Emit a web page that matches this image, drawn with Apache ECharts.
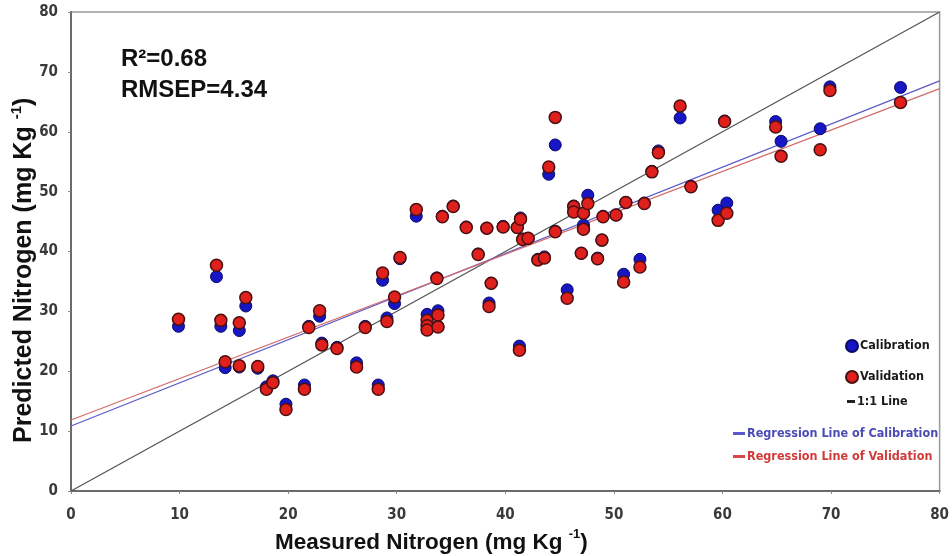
<!DOCTYPE html>
<html>
<head>
<meta charset="utf-8">
<script src="https://cdn.jsdelivr.net/npm/echarts@6/dist/echarts.min.js"></script>
<style>
html,body{margin:0;padding:0;background:#fff;}
#chart{width:952px;height:556px;}
</style>
</head>
<body>
<div id="chart"></div>
<script>
// Measured nitrogen (x) shared by each calibration / validation pair
var measured = [9.9,13.4,13.8,16.1,15.5,14.2,15.5,17.2,18.0,18.6,19.8,21.5,21.9,22.9,23.1,24.5,26.3,27.1,28.3,28.7,29.1,29.8,30.3,31.8,32.8,32.8,32.8,33.8,33.8,33.7,34.2,35.2,36.4,37.5,38.3,38.7,38.5,39.8,41.1,41.3,41.4,41.6,42.1,43.0,43.6,44.0,44.6,44.6,45.7,46.3,46.3,47.0,47.2,47.2,47.6,48.5,48.9,49.0,50.2,50.9,51.1,52.4,52.8,53.5,54.1,56.1,57.1,59.6,60.2,60.4,64.9,65.4,69.0,69.9,76.4];
// Predicted nitrogen, calibration model
var calibration = [27.5,35.8,27.5,30.9,26.8,20.6,20.7,20.5,17.4,18.4,14.5,17.7,27.5,29.2,24.7,24.0,21.4,27.5,17.7,35.2,28.9,31.3,38.8,45.9,29.5,27.9,27.1,30.1,27.5,35.6,45.9,47.6,44.1,39.6,43.9,34.7,31.4,44.2,44.0,24.2,45.6,42.1,42.2,38.7,39.1,52.9,57.8,43.4,33.6,47.6,46.7,39.7,44.4,46.4,49.4,38.9,41.9,45.9,46.1,36.2,48.2,38.7,48.1,53.4,56.8,62.3,50.9,46.9,61.8,48.1,61.7,58.4,60.5,67.5,67.4];
// Predicted nitrogen, validation model
var validation = [28.7,37.7,28.5,32.3,28.1,21.6,20.9,20.8,17.0,18.1,13.6,17.0,27.3,30.1,24.4,23.8,20.7,27.3,17.0,36.4,28.3,32.4,39.0,47.0,28.5,27.6,26.9,29.4,27.4,35.5,45.8,47.5,44.0,39.5,43.9,34.7,30.8,44.1,44.0,23.5,45.4,42.0,42.2,38.6,38.9,54.1,62.4,43.3,32.2,47.5,46.6,39.7,43.7,46.4,48.0,38.8,41.9,45.8,46.1,34.9,48.2,37.4,48.0,53.3,56.5,64.3,50.8,45.2,61.7,46.4,60.8,55.9,57.0,66.9,64.9];
// Reference lines (end points)
var lineOneToOne = [[0,0],[80,80]];
var lineRegCal = [[0,10.85],[80,68.5]];
var lineRegVal = [[0,11.85],[80,67.2]];
var axisTicks = [0,10,20,30,40,50,60,70,80];

var calData = measured.map(function(x,i){return [x, calibration[i]];});
var valData = measured.map(function(x,i){return [x, validation[i]];});

var FN = '"DejaVu Sans Condensed",sans-serif';
var FA = '"Liberation Sans",Arial,sans-serif';

var chart = echarts.init(document.getElementById('chart'));
function legendItem(name, left, top, icon, w, h, color){
  return {
    left:left, top:top, padding:0, orient:'vertical',
    itemWidth:w, itemHeight:h, itemGap:0,
    icon:icon,
    data:[{name:name}],
    textStyle:{fontFamily:FN, fontSize:12.5, fontWeight:'bold', color:color, padding:[0,0,0,-3]}
  };
}
chart.setOption({
  animation:false,
  backgroundColor:'#fff',
  grid:{left:71, right:9, top:12, bottom:65, show:true, borderColor:'#9a9a9a', borderWidth:1.5},
  xAxis:{type:'value', min:0, max:80, interval:10,
    axisLine:{show:true, onZero:false, lineStyle:{color:'#6a6a6a', width:2}},
    axisTick:{show:true, length:3, lineStyle:{color:'#888'}},
    splitLine:{show:false},
    axisLabel:{margin:17, fontFamily:FN, fontSize:15, fontWeight:'bold', color:'#3a3a3a',
      formatter:function(v){return axisTicks.indexOf(v)>=0? String(v):'';}}
  },
  yAxis:{type:'value', min:0, max:80, interval:10,
    axisLine:{show:true, onZero:false, lineStyle:{color:'#6a6a6a', width:2}},
    axisTick:{show:true, length:3, lineStyle:{color:'#888'}},
    splitLine:{show:false},
    axisLabel:{margin:13, fontFamily:FN, fontSize:15, fontWeight:'bold', color:'#3a3a3a',
      formatter:function(v){return axisTicks.indexOf(v)>=0? String(v):'';}}
  },
  legend:[
    legendItem('Calibration', 845, 339, 'circle', 12, 13, '#1a1a1a'),
    legendItem('Validation', 845, 370, 'circle', 12, 13, '#1a1a1a'),
    legendItem('1:1 Line', 847, 395, 'rect', 8, 3, '#1a1a1a'),
    legendItem('Regression Line of Calibration', 733, 427, 'rect', 12, 3, '#4b4bb5'),
    legendItem('Regression Line of Validation', 733, 450, 'rect', 12, 3, '#d23a3a')
  ],
  graphic:[
    {type:'text', left:121, top:47, style:{text:'R²=0.68', font:'bold 24px '+FA, fill:'#111'}},
    {type:'text', left:121, top:78, style:{text:'RMSEP=4.34', font:'bold 24px '+FA, fill:'#111'}},
    {type:'text', x:275, y:541, style:{text:'{a|Measured Nitrogen (mg Kg }{s|-1}{a|)}', align:'left', verticalAlign:'middle',
      rich:{a:{fontFamily:FA, fontWeight:'bold', fontSize:22.5, lineHeight:26, verticalAlign:'bottom', fill:'#111'},
            s:{fontFamily:FA, fontWeight:'bold', fontSize:13, lineHeight:26, verticalAlign:'top', fill:'#111'}}}},
    {type:'text', x:23, y:443, rotation:Math.PI/2, style:{text:'{a|Predicted Nitrogen (mg Kg }{s|-1}{a|)}', align:'left', verticalAlign:'middle',
      rich:{a:{fontFamily:FA, fontWeight:'bold', fontSize:25, lineHeight:28, verticalAlign:'bottom', fill:'#111'},
            s:{fontFamily:FA, fontWeight:'bold', fontSize:15, lineHeight:28, verticalAlign:'top', fill:'#111'}}}}
  ],
  series:[
    {name:'1:1 Line', type:'line', data:lineOneToOne, symbol:'none', z:2,
      lineStyle:{color:'#555', width:1.3}, itemStyle:{color:'#222'}},
    {name:'Regression Line of Calibration', type:'line', data:lineRegCal, symbol:'none', z:2,
      lineStyle:{color:'#5a5ac8', width:1.2}, itemStyle:{color:'#5a5ac8'}},
    {name:'Regression Line of Validation', type:'line', data:lineRegVal, symbol:'none', z:2,
      lineStyle:{color:'#d46a6a', width:1.2}, itemStyle:{color:'#d84848'}},
    {name:'Calibration', type:'scatter', data:calData, symbolSize:12, z:3,
      itemStyle:{color:'#1616c4', borderColor:'#0a0a6a', borderWidth:1, opacity:1}},
    {name:'Validation', type:'scatter', data:valData, symbolSize:12, z:4,
      itemStyle:{color:'#e0201c', borderColor:'#4a1010', borderWidth:1.5, opacity:1}}
  ]
});
</script>
</body>
</html>
